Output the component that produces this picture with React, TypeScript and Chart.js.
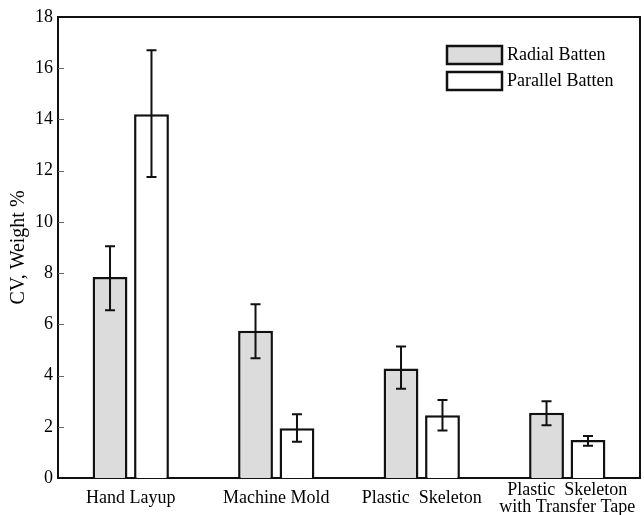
import React, { useEffect, useRef } from "react";
import { Chart, registerables } from "chart.js";

Chart.register(...registerables);

const categories: (string | string[])[] = [
  "Hand Layup",
  "Machine Mold",
  "Plastic  Skeleton",
  ["Plastic  Skeleton", "with Transfer Tape"],
];
const seriesNames = ["Radial Batten", "Parallel Batten"];
const radialValues = [7.85, 5.75, 4.28, 2.55];
const radialLow = [6.55, 4.68, 3.48, 2.06];
const radialHigh = [9.05, 6.78, 5.13, 3.0];
const parallelValues = [14.2, 1.94, 2.45, 1.48];
const parallelLow = [11.75, 1.42, 1.85, 1.26];
const parallelHigh = [16.7, 2.49, 3.05, 1.64];
const yTitle = "CV, Weight %";
const yMin = 0;
const yMax = 18;
const yStep = 2;

const FONT = "'Liberation Serif', 'Times New Roman', serif";
const INK = "#111111";

const errorBars = {
  id: "errorBars",
  afterDatasetsDraw(chart: any) {
    const ctx = chart.ctx;
    const yScale = chart.scales.y;
    const lows = [radialLow, parallelLow];
    const highs = [radialHigh, parallelHigh];
    ctx.save();
    ctx.strokeStyle = INK;
    ctx.lineWidth = 2;
    chart.data.datasets.forEach((_: any, di: number) => {
      const meta = chart.getDatasetMeta(di);
      meta.data.forEach((el: any, i: number) => {
        const x = el.x;
        const yl = yScale.getPixelForValue(lows[di][i]);
        const yh = yScale.getPixelForValue(highs[di][i]);
        ctx.beginPath();
        ctx.moveTo(x, yl);
        ctx.lineTo(x, yh);
        ctx.moveTo(x - 5, yl);
        ctx.lineTo(x + 5, yl);
        ctx.moveTo(x - 5, yh);
        ctx.lineTo(x + 5, yh);
        ctx.stroke();
      });
    });
    ctx.restore();
  },
};

const frameAndLegend = {
  id: "frameAndLegend",
  afterDraw(chart: any) {
    const ctx = chart.ctx;
    const { left, right, top, bottom } = chart.chartArea;
    const yScale = chart.scales.y;
    ctx.save();
    // inner tick marks
    ctx.strokeStyle = "#666";
    ctx.lineWidth = 1;
    yScale.ticks.forEach((t: any) => {
      const y = Math.round(yScale.getPixelForValue(t.value)) + 0.5;
      if (t.value === yMin || t.value === yMax) return;
      ctx.beginPath();
      ctx.moveTo(left, y);
      ctx.lineTo(left + 6, y);
      ctx.stroke();
    });
    // frame top and right
    ctx.strokeStyle = INK;
    ctx.lineWidth = 2;
    ctx.beginPath();
    ctx.moveTo(left - 1, top);
    ctx.lineTo(right, top);
    ctx.lineTo(right, bottom + 1);
    ctx.stroke();
    // legend
    const bx = 447;
    const by = [46, 72];
    ctx.font = "18px " + FONT;
    ctx.textBaseline = "middle";
    ctx.textAlign = "left";
    chart.data.datasets.forEach((ds: any, i: number) => {
      ctx.fillStyle = ds.backgroundColor;
      ctx.fillRect(bx, by[i], 55, 18);
      ctx.strokeStyle = INK;
      ctx.lineWidth = 2.5;
      ctx.strokeRect(bx, by[i], 55, 18);
      ctx.fillStyle = "#000";
      ctx.fillText(seriesNames[i], bx + 60, by[i] + 9.5);
    });
    ctx.restore();
  },
};

export default function App() {
  const ref = useRef<HTMLCanvasElement | null>(null);
  useEffect(() => {
    document.body.style.margin = "0";
    if (!ref.current) return;
    const chart = new Chart(ref.current, {
      type: "bar",
      data: {
        labels: categories,
        datasets: [
          {
            label: seriesNames[0],
            data: radialValues,
            backgroundColor: "#dcdcdc",
            borderColor: INK,
            borderWidth: 2.5,
            categoryPercentage: 0.57,
            barPercentage: 0.84,
          },
          {
            label: seriesNames[1],
            data: parallelValues,
            backgroundColor: "#ffffff",
            borderColor: INK,
            borderWidth: 2.5,
            categoryPercentage: 0.57,
            barPercentage: 0.84,
          },
        ],
      },
      options: {
        responsive: false,
        animation: false,
        layout: { padding: { top: 17, right: 4, left: 0, bottom: 0 } },
        plugins: {
          legend: { display: false },
          tooltip: { enabled: false },
        },
        scales: {
          x: {
            type: "category",
            offset: true,
            grid: { display: false, drawTicks: false },
            border: { display: true, color: INK, width: 2 },
            ticks: {
              color: "#000",
              font: { family: FONT, size: 18, lineHeight: 0.95 },
              maxRotation: 0,
              minRotation: 0,
              autoSkip: false,
              padding: 12,
              crossAlign: "center",
            },
            afterFit: (s: any) => {
              s.height = 37;
              s.paddingLeft = 0;
              s.paddingRight = 0;
            },
          },
          y: {
            min: yMin,
            max: yMax,
            grid: { display: false, drawTicks: false },
            border: { display: true, color: INK, width: 2 },
            ticks: {
              stepSize: yStep,
              color: "#000",
              font: { family: FONT, size: 18 },
              padding: 5,
            },
            title: {
              display: true,
              text: yTitle,
              color: "#000",
              font: { family: FONT, size: 20 },
              padding: { top: 7, bottom: 0 },
            },
            afterFit: (s: any) => {
              s.width = 58;
              s.paddingTop = 0;
              s.paddingBottom = 0;
            },
          },
        },
      },
      plugins: [errorBars, frameAndLegend],
    });
    return () => chart.destroy();
  }, []);
  return (
    <div style={{ width: 644, height: 515 }}>
      <canvas ref={ref} width={644} height={515} style={{ display: "block" }} />
    </div>
  );
}
